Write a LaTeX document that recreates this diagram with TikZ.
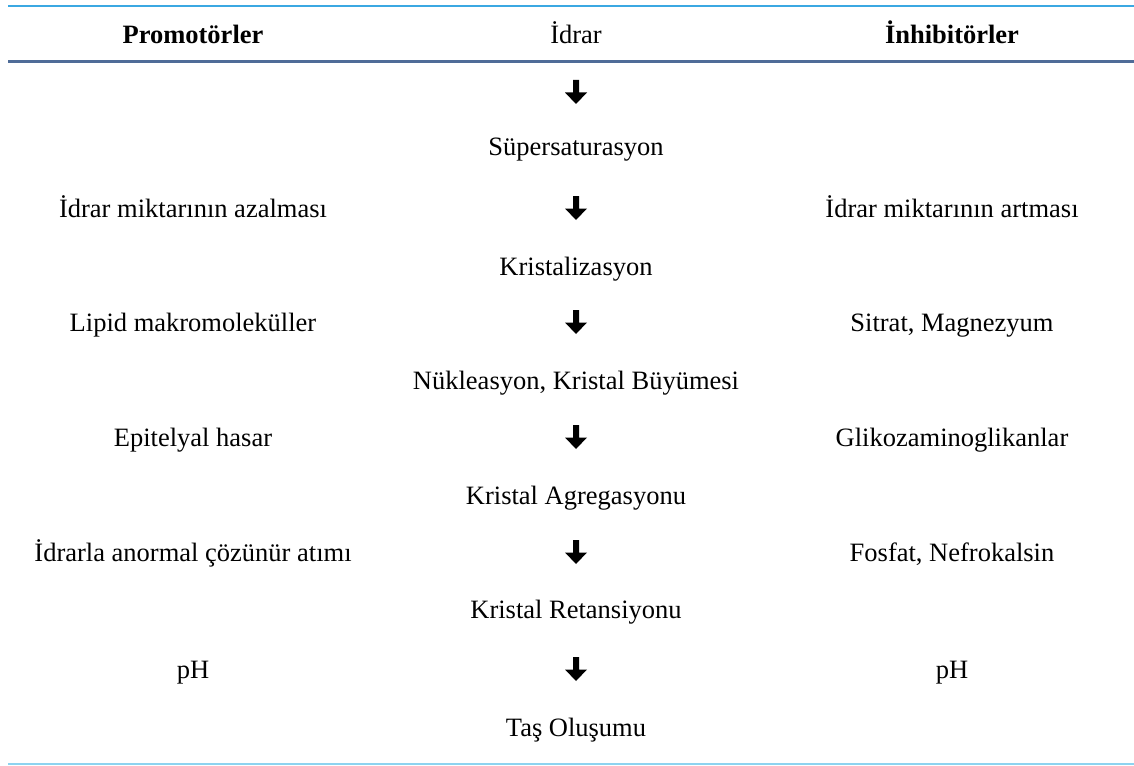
\documentclass[tikz,border=0pt]{standalone}
\usepackage{fontspec}
\setmainfont{Liberation Serif}
\usepackage{tikz}
\usetikzlibrary{positioning}
\definecolor{TopRule} {RGB}{59,168,226}
\definecolor{HeadRule}{RGB}{79,108,152}
\definecolor{BotRule} {RGB}{141,211,240}

\begin{document}
\begin{tikzpicture}[x=1pt,y=-1pt,
  every node/.style={font=\fontsize{26.5}{30}\selectfont,anchor=base,inner sep=0pt},
  head/.style={font=\fontsize{26.5}{30}\selectfont\bfseries},
  blockarrow/.pic={\fill (-3,-12) -- (3,-12) -- (3,0.5) -- (11,0.5)
                   -- (0,12) -- (-11,0.5) -- (-3,0.5) -- cycle;}]
\useasboundingbox (0,0) rectangle (1134,765);
% rules of the table
\draw[TopRule,line width=2.3pt] (8,6) -- (1134,6);
\draw[HeadRule,line width=2.7pt] (8,61.3) -- (1134,61.3);
\draw[BotRule,line width=1.4pt] (8,763.8) -- (1134,763.8);
% header
\node[head] (prom) at (193,44) {Promotörler};
\node (idrar) at (576,44) {İdrar};
\node[head] (inh) at (952,44) {İnhibitörler};
% middle column
\node (super) at (576,155) {Süpersaturasyon};
\node (krist) at (576,275) {Kristalizasyon};
\node (nukl) at (576,389) {Nükleasyon, Kristal Büyümesi};
\node (agreg) at (576,504) {Kristal Agregasyonu};
\node (retan) at (576,618) {Kristal Retansiyonu};
\node (tas) at (576,736) {Taş Oluşumu};
% promoters
\node (p1) at (193,217) {İdrar miktarının azalması};
\node (p2) at (193,331) {Lipid makromoleküller};
\node (p3) at (193,446) {Epitelyal hasar};
\node (p4) at (193,561) {İdrarla anormal çözünür atımı};
\node (p5) at (193,678) {pH};
% inhibitors
\node (i1) at (952,217) {İdrar miktarının artması};
\node (i2) at (952,331) {Sitrat, Magnezyum};
\node (i3) at (952,446) {Glikozaminoglikanlar};
\node (i4) at (952,561) {Fosfat, Nefrokalsin};
\node (i5) at (952,678) {pH};
% arrows
\foreach \y in {92,208,322,437,552,669}
  \pic at (576,\y) {blockarrow};
\end{tikzpicture}
\end{document}
